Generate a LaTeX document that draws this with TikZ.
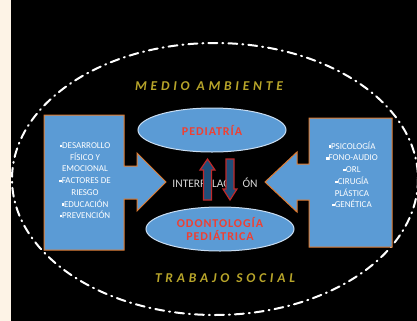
\documentclass[tikz,border=0pt]{standalone}
\usepackage{fontspec}
\setmainfont{Carlito}
\newfontfamily\widefont[LetterSpace=28]{Carlito}
\newfontfamily\redfont[LetterSpace=8]{Carlito}
\usetikzlibrary{shapes.geometric}
\definecolor{cream}{HTML}{FDF3E6}
\definecolor{boxblue}{HTML}{5B9BD5}
\definecolor{boxorange}{HTML}{E07B30}
\definecolor{ovalrim}{HTML}{C9DDF2}
\definecolor{redtext}{HTML}{EE4033}
\definecolor{gold}{HTML}{B8A52A}
\definecolor{arrowblue}{HTML}{1F4E79}
\definecolor{arrowred}{HTML}{C0282A}
\newcommand{\bul}{\rule[0.3ex]{2.5bp}{2.5bp}}
\tikzset{
  sidebox/.style={draw=boxorange, fill=boxblue, line width=1bp, line join=miter},
  oval/.style={ellipse, draw=ovalrim, fill=boxblue, line width=1bp,
    minimum width=148bp, minimum height=44bp, inner sep=0pt,
    text=redtext, font=\redfont\fontsize{12bp}{13bp}\selectfont\bfseries, align=center},
  sidetext/.style={text=white, align=center, inner sep=0pt,
    font=\fontsize{9bp}{11.7bp}\selectfont},
  frametext/.style={text=gold, font=\widefont\fontsize{13.5bp}{15bp}\selectfont\bfseries\itshape},
  updown/.style={draw=arrowred, fill=arrowblue, line width=1.2bp, line join=miter}
}
\begin{document}
\begin{tikzpicture}[x=1bp,y=-1bp]
  \useasboundingbox (0,0) rectangle (417,321);
  \fill[cream] (0,0) rectangle (417,321);
  \fill[black] (11,0) rectangle (417,321);
  % outer frame
  \draw[white, line width=2bp, line cap=round,
        dash pattern=on 9bp off 5bp on 1bp off 5bp]
    (215,179) ellipse [x radius=203, y radius=136];
  \node[frametext] (medio) at (209,86) {MEDIO AMBIENTE};
  \node[frametext] (trabajo) at (225,278) {TRABAJO SOCIAL};
  % side boxes
  \draw[sidebox] (44,115) -- (124,115) -- (124,166) -- (137,166) -- (137,153)
    -- (166,182) -- (137,211) -- (137,199) -- (124,199) -- (124,250)
    -- (44,250) -- cycle;
  \draw[sidebox] (392,118) -- (309,118) -- (309,164) -- (297,164) -- (297,152)
    -- (265,182) -- (297,212) -- (297,200) -- (309,200) -- (309,247)
    -- (392,247) -- cycle;
  \node[sidetext, anchor=north] (factores) at (85,142.5)
    {\bul DESARROLLO\\FÍSICO Y\\EMOCIONAL\\\bul FACTORES DE\\RIESGO\\\bul EDUCACIÓN\\\bul PREVENCIÓN};
  \node[sidetext, anchor=north] (areas) at (352,141.5)
    {\bul PSICOLOGÍA\\\bul FONO-AUDIO\\\bul ORL\\\bul CIRUGÍA\\PLÁSTICA\\\bul GENÉTICA};
  % centre
  \node[oval] (ped) at (212,130) {PEDIATRÍA};
  \node[oval] (odo) at (220,229) {ODONTOLOGÍA\\PEDIÁTRICA};
  \node[text=white!85!black, font=\fontsize{11.5bp}{12bp}\selectfont] (inter) at (215,183)
    {INTERRELACI\hspace{10bp}ÓN};
  \draw[updown] (207.5,159) -- (215,170) -- (211.5,170) -- (211.5,200)
    -- (203.5,200) -- (203.5,170) -- (200,170) -- cycle;
  \draw[updown] (230,200) -- (237,189) -- (234,189) -- (234,159)
    -- (226,159) -- (226,189) -- (223,189) -- cycle;
\end{tikzpicture}
\end{document}
